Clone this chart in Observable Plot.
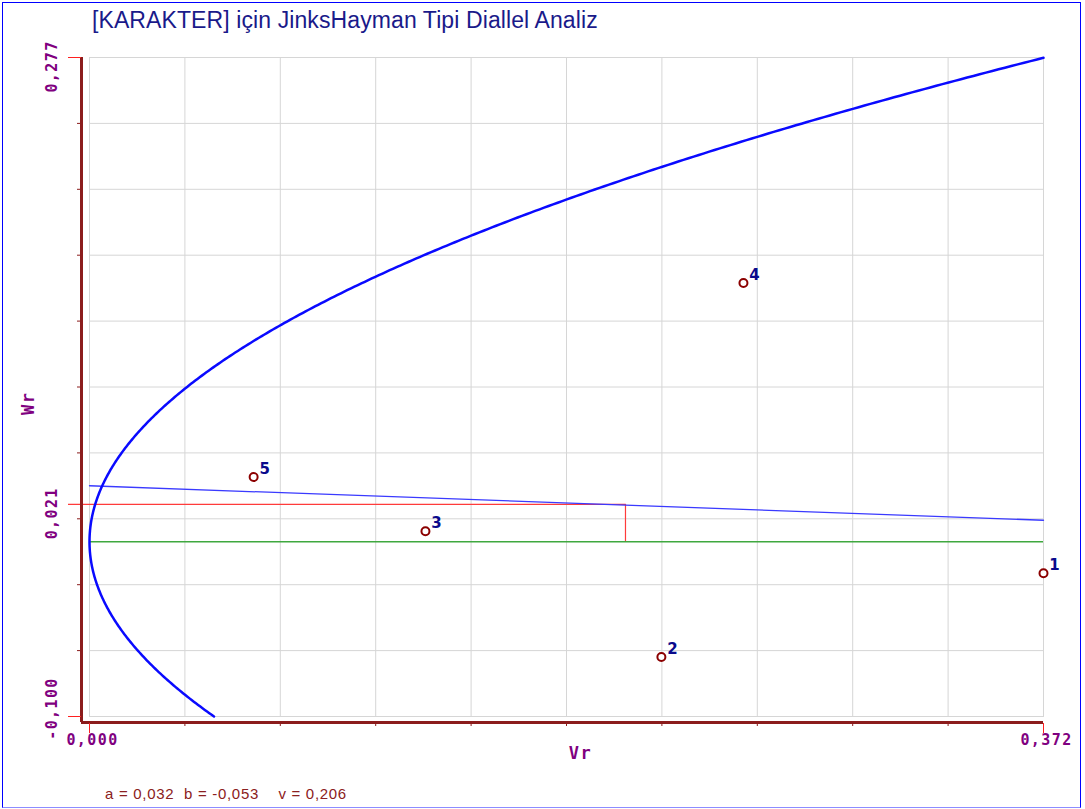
<!DOCTYPE html>
<html>
<head>
<meta charset="utf-8">
<script src="https://cdn.jsdelivr.net/npm/d3@7"></script>
<script src="https://cdn.jsdelivr.net/npm/@observablehq/plot@0.6"></script>
<style>
  html, body { margin: 0; padding: 0; background: #fff; }
  #wrap { position: relative; width: 1085px; height: 809px; overflow: hidden; background: #fff; }
  #border { position: absolute; left: 2px; top: 2px; width: 1077px; height: 804px; border: 1px solid #0000ff; border-bottom-color: #8c8cff; box-sizing: content-box; pointer-events: none; }
  #title { position: absolute; left: 92px; top: 7px; font-family: "Liberation Sans", Arial, sans-serif; font-size: 23px; color: #1a1a8a; white-space: pre; letter-spacing: 0.1px; }
  #chart { position: absolute; left: 0; top: 40px; }
  #caption { position: absolute; left: 105px; top: 785px; font-family: "Liberation Sans", Arial, sans-serif; font-size: 15px; color: #8b2020; white-space: pre; letter-spacing: 0.7px; }
  #chart g[font-family^="DejaVu Sans Mono"] { letter-spacing: 1.4px; }
</style>
</head>
<body>
<div id="wrap">
  <div id="title">[KARAKTER] için JinksHayman Tipi Diallel Analiz</div>
  <div id="chart"></div>
  <div id="caption"></div>
  <div id="border"></div>
</div>
<script>
// Array (Vr) and covariance (Wr) of each parent line
const parents = ["1", "2", "3", "4", "5"];
const Vr = [0.372, 0.223, 0.131, 0.255, 0.064];
const Wr = [-0.018, -0.066, 0.006, 0.148, 0.037];

// Regression Wr = a + b·Vr and parental variance v of the limiting parabola Wr² = v·Vr
const a = 0.032;
const b = -0.053;
const v = 0.206;

// Axis extents and their end labels
const xDomain = [0, 0.372];
const yDomain = [-0.1, 0.277];
const comma = (d) => d.toFixed(3).replace(".", ",");

const rows = parents.map((p, i) => ({p, vr: Vr[i], wr: Wr[i]}));
const meanVr = d3.mean(Vr);
const meanWr = d3.mean(Wr);

// Ten equal divisions along each axis
const xGrid = d3.range(11).map((i) => xDomain[0] + (i * (xDomain[1] - xDomain[0])) / 10);
const yGrid = d3.range(11).map((i) => yDomain[0] + (i * (yDomain[1] - yDomain[0])) / 10);

// Limiting parabola Wr² = v·Vr, both branches inside the axes
const wTop = Math.sqrt(v * xDomain[1]);
const parabola = d3.range(0, 401).map((k) => {
  const w = yDomain[0] + (k / 400) * (wTop - yDomain[0]);
  return {vr: (w * w) / v, wr: w};
});

// Regression line across the whole Vr range
const regression = xDomain.map((x) => ({vr: x, wr: a + b * x}));

const axisColor = "#8b1c1c";
const tickRed = "#ff2020";
const purple = "#800080";
const gridColor = "#d6d6d6";
const mono = "DejaVu Sans Mono, monospace";

const chart = Plot.plot({
  width: 1085,
  height: 730,
  marginTop: 17,
  marginBottom: 54,
  marginLeft: 89,
  marginRight: 42,
  x: {domain: xDomain, axis: null},
  y: {domain: yDomain, axis: null},
  marks: [
    // grid and plot frame
    Plot.ruleX(xGrid, {stroke: gridColor, strokeWidth: 1}),
    Plot.ruleY(yGrid, {stroke: gridColor, strokeWidth: 1}),
    Plot.frame({stroke: gridColor, strokeWidth: 1}),

    // mean Vr / mean Wr guide lines
    Plot.ruleY([meanWr], {x1: 0, x2: meanVr, insetLeft: -21, stroke: "#ff3b3b", strokeWidth: 1.2}),
    Plot.ruleX([meanVr], {y1: 0, y2: meanWr, stroke: "#ff3b3b", strokeWidth: 1.2}),

    // Wr = 0 line
    Plot.ruleY([0], {x1: xDomain[0], x2: xDomain[1], stroke: "#3fa83f", strokeWidth: 1.4}),

    // regression line
    Plot.line(regression, {x: "vr", y: "wr", stroke: "#3a3aff", strokeWidth: 1.3}),

    // limiting parabola
    Plot.line(parabola, {x: "vr", y: "wr", stroke: "#0a0aff", strokeWidth: 2.5}),

    // offset axis lines
    Plot.ruleX([0], {dx: -8, insetBottom: -6, stroke: axisColor, strokeWidth: 3}),
    Plot.ruleY([yDomain[0]], {dy: 6, insetLeft: -8, stroke: axisColor, strokeWidth: 3}),

    // minor ticks on the axes
    Plot.ruleY(yGrid.slice(1, -1), {x1: 0, x2: 0, insetLeft: -12, insetRight: 8, stroke: axisColor, strokeWidth: 1}),
    Plot.ruleX(xGrid.slice(1, -1), {y1: yDomain[0], y2: yDomain[0], insetTop: 6, insetBottom: -10, stroke: axisColor, strokeWidth: 1}),

    // end ticks in red
    Plot.ruleY(yDomain, {x1: 0, x2: 0, insetLeft: -21, insetRight: 8, stroke: tickRed, strokeWidth: 1}),
    Plot.ruleX(xDomain, {y1: yDomain[0], y2: yDomain[0], insetTop: 7, insetBottom: -17, stroke: tickRed, strokeWidth: 1}),

    // y labels (rotated)
    Plot.text([yDomain[1], meanWr], {y: (d) => d, text: (d) => comma(d), frameAnchor: "left", dx: -37, dy: 9,
      rotate: -90, textAnchor: "middle", lineAnchor: "middle", fill: purple, fontFamily: mono, fontWeight: "bold", fontSize: 15}),
    Plot.text([yDomain[0]], {y: (d) => d, text: (d) => comma(d), frameAnchor: "left", dx: -37, dy: -8,
      rotate: -90, textAnchor: "middle", lineAnchor: "middle", fill: purple, fontFamily: mono, fontWeight: "bold", fontSize: 15}),

    // x labels
    Plot.text(xDomain, {x: (d) => d, text: (d) => comma(d), frameAnchor: "bottom", dx: 3, dy: 24,
      textAnchor: "middle", lineAnchor: "middle", fill: purple, fontFamily: mono, fontWeight: "bold", fontSize: 15}),

    // axis titles
    Plot.text(["Vr"], {text: (d) => d, frameAnchor: "bottom", dx: 14, dy: 37, lineAnchor: "middle",
      fill: purple, fontFamily: mono, fontWeight: "bold", fontSize: 17}),
    Plot.text(["Wr"], {text: (d) => d, frameAnchor: "left", dx: -61, dy: 28, rotate: -90, lineAnchor: "middle",
      fill: purple, fontFamily: mono, fontWeight: "bold", fontSize: 17}),

    // parents
    Plot.dot(rows, {x: "vr", y: "wr", r: 4, stroke: "#8b0000", strokeWidth: 2, fill: "white"}),
    Plot.text(rows, {x: "vr", y: "wr", text: "p", dx: 11, dy: -8, fill: "#0a0a8c", fontFamily: "DejaVu Sans, sans-serif",
      fontWeight: "bold", fontSize: 15})
  ]
});

document.getElementById("chart").appendChild(chart);
document.getElementById("caption").textContent =
  `a = ${comma(a)}  b = ${comma(b)}    v = ${comma(v)}`;
</script>
</body>
</html>
